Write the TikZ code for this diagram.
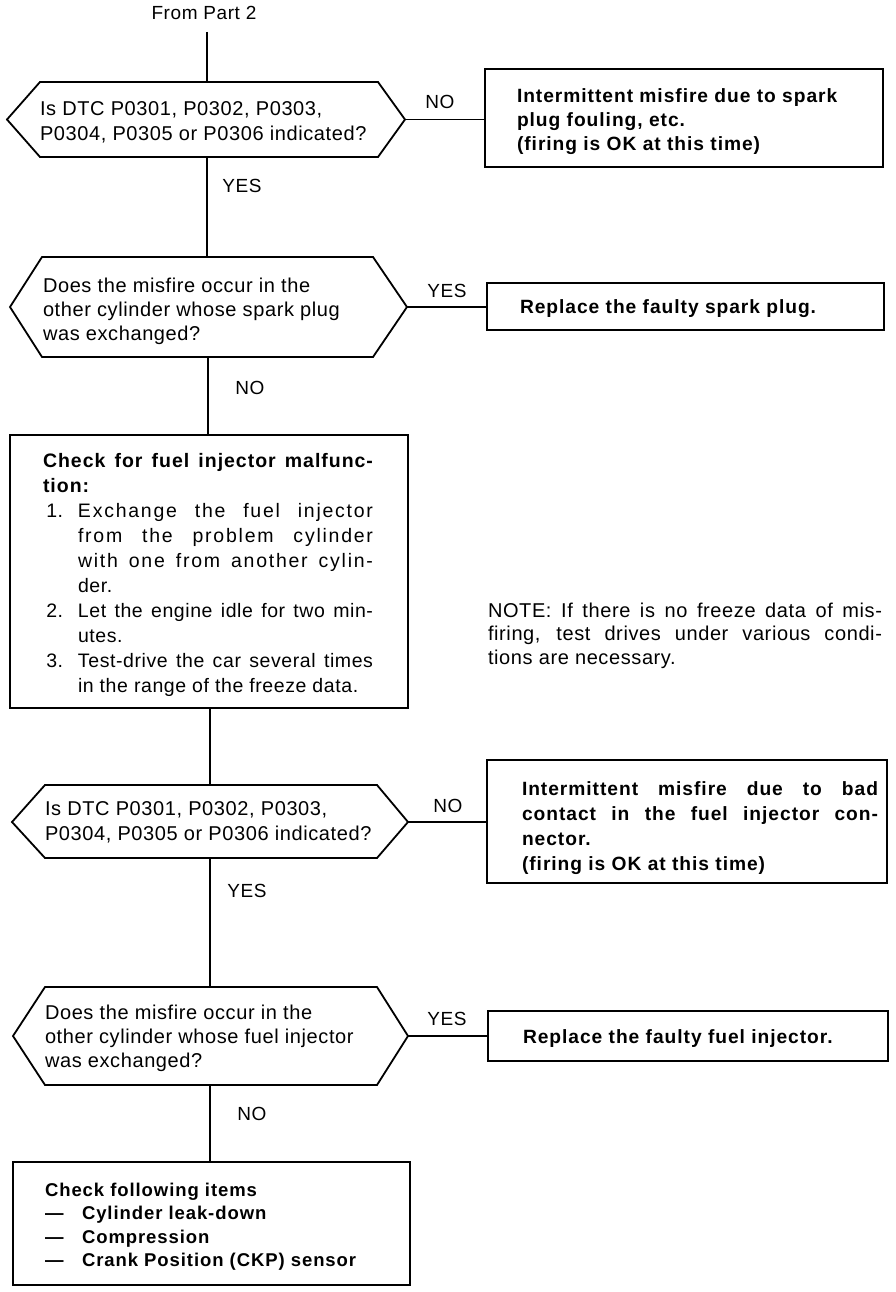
\documentclass[tikz,border=0pt]{standalone}
\usepackage{fontspec}
\setmainfont{Liberation Sans}
\newfontfamily\regf[LetterSpace=3]{Liberation Sans}
\newfontfamily\bldf[LetterSpace=5]{Liberation Sans}
\newcommand\blines[1]{\begin{tabular}[t]{@{}l@{}}#1\end{tabular}}
\newcommand\jl[2]{\makebox[#1pt][s]{#2}}
\newcommand\wide[1]{\addfontfeature{LetterSpace=9}#1}
\tikzset{
  every node/.style={inner sep=0pt, outer sep=0pt},
  rtxt/.style={anchor=base west, font=\regf\fontsize{19.5}{#1}\selectfont},
  rtxt/.default=24.5,
  qtxt/.style={anchor=base west, font=\regf\fontsize{20}{#1}\selectfont},
  qtxt/.default=24.5,
  btxt/.style={anchor=base west, font=\bldf\bfseries\fontsize{19.2}{#1}\selectfont},
  btxt/.default=24.5,
  lbl/.style={anchor=base, font=\regf\fontsize{19}{23}\selectfont},
  boxn/.style={draw, anchor=north west, line width=1.8pt},
  hexa/.style={draw, line width=1.8pt, line join=miter},
  conn/.style={draw, line width=1.8pt},
}
\begin{document}
\begin{tikzpicture}[x=1pt,y=-1pt]
\useasboundingbox (0,0) rectangle (896,1292);

% ---------- hexagon coordinates ----------
\coordinate (h1l) at (7,119.5);  \coordinate (h1tl) at (40,82);  \coordinate (h1tr) at (378,82);
\coordinate (h1r) at (405,119.5); \coordinate (h1br) at (378,157); \coordinate (h1bl) at (40,157);
\coordinate (h1t) at (207,82); \coordinate (h1b) at (207,157);

\coordinate (h2l) at (10,307);  \coordinate (h2tl) at (42,257);  \coordinate (h2tr) at (373,257);
\coordinate (h2r) at (407,307); \coordinate (h2br) at (373,357); \coordinate (h2bl) at (42,357);
\coordinate (h2t) at (207,257); \coordinate (h2b) at (208,357);

\coordinate (h3l) at (12,822);  \coordinate (h3tl) at (45,785);  \coordinate (h3tr) at (377,785);
\coordinate (h3r) at (408,822); \coordinate (h3br) at (377,858); \coordinate (h3bl) at (45,858);
\coordinate (h3t) at (210,785); \coordinate (h3b) at (210,858);

\coordinate (h4l) at (13,1036);  \coordinate (h4tl) at (45,987);  \coordinate (h4tr) at (377,987);
\coordinate (h4r) at (408,1036); \coordinate (h4br) at (377,1085); \coordinate (h4bl) at (45,1085);
\coordinate (h4t) at (210,987); \coordinate (h4b) at (210,1085);

\draw[hexa] (h1l) -- (h1tl) -- (h1tr) -- (h1r) -- (h1br) -- (h1bl) -- cycle;
\draw[hexa] (h2l) -- (h2tl) -- (h2tr) -- (h2r) -- (h2br) -- (h2bl) -- cycle;
\draw[hexa] (h3l) -- (h3tl) -- (h3tr) -- (h3r) -- (h3br) -- (h3bl) -- cycle;
\draw[hexa] (h4l) -- (h4tl) -- (h4tr) -- (h4r) -- (h4br) -- (h4bl) -- cycle;

% ---------- boxes ----------
\node[boxn, minimum width=398pt, minimum height=98pt] (b1) at (485,69) {};
\node[boxn, minimum width=397pt, minimum height=47pt] (b2) at (487,283) {};
\node[boxn, minimum width=398pt, minimum height=273pt] (b3) at (10,435) {};
\node[boxn, minimum width=400pt, minimum height=123pt] (b4) at (487,760) {};
\node[boxn, minimum width=400pt, minimum height=50pt] (b5) at (488,1011) {};
\node[boxn, minimum width=397pt, minimum height=123pt] (b6) at (13,1162) {};

% ---------- texts ----------
\node[lbl] (from) at (204,20) {From Part 2};
\coordinate (c0) at (207,32);

\node[qtxt=25] (q1) at (40,116) {\blines{Is DTC P0301, P0302, P0303,\\P0304, P0305 or P0306 indicated?}};
\node[lbl] (no1) at (440,109) {NO};
\node[btxt=24] (r1) at (517,103) {\blines{Intermittent misfire due to spark\\plug fouling, etc.\\(firing is OK at this time)}};
\node[lbl] (yes1) at (242,193) {YES};

\node[qtxt=24] (q2) at (43,292) {\blines{Does the misfire occur in the\\other cylinder whose spark plug\\was exchanged?}};
\node[lbl] (yes2) at (447,297) {YES};
\node[btxt] (r2) at (520,313) {Replace the faulty spark plug.};
\node[lbl] (no2) at (250,394) {NO};

\node[rtxt=25] (s3) at (43,467) {\begin{tabular}[t]{@{}l@{}l@{}}
\multicolumn{2}{@{}l@{}}{\bldf\bfseries\jl{330}{Check for fuel injector malfunc-}}\\
\multicolumn{2}{@{}l@{}}{\bldf\bfseries tion:}\\
\makebox[35pt][l]{\,1.} & \jl{295}{\wide{Exchange the fuel injector}}\\
 & \jl{295}{\wide{from the problem cylinder}}\\
 & \jl{295}{\wide{with one from another cylin-}}\\
 & der.\\
\,2. & \jl{295}{Let the engine idle for two min-}\\
 & utes.\\
\,3. & \jl{295}{Test-drive the car several times}\\
 & in the range of the freeze data.
\end{tabular}};

\node[anchor=base west, font=\regf\fontsize{20}{23.5}\selectfont] (note) at (488,617) {\blines{\jl{394}{NOTE: If there is no freeze data of mis-}\\\jl{394}{firing, test drives under various condi-}\\tions are necessary.}};

\node[qtxt=25] (q3) at (45,815) {\blines{Is DTC P0301, P0302, P0303,\\P0304, P0305 or P0306 indicated?}};
\node[lbl] (no3) at (448,812) {NO};
\node[btxt=25] (r4) at (522,795) {\blines{\jl{356}{Intermittent misfire due to bad}\\\jl{356}{contact in the fuel injector con-}\\nector.\\(firing is OK at this time)}};
\node[lbl] (yes3) at (247,897) {YES};

\node[qtxt=24] (q4) at (45,1019) {\blines{Does the misfire occur in the\\other cylinder whose fuel injector\\was exchanged?}};
\node[lbl] (yes4) at (447,1025) {YES};
\node[btxt] (r5) at (523,1043) {Replace the faulty fuel injector.};
\node[lbl] (no4) at (252,1120) {NO};

\node[anchor=base west, font=\bldf\bfseries\fontsize{18.5}{23.5}\selectfont] (r6) at (45,1196) {\begin{tabular}[t]{@{}l@{}l@{}}
\multicolumn{2}{@{}l@{}}{Check following items}\\
\makebox[37pt][l]{—} & Cylinder leak-down\\
— & Compression\\
— & Crank Position (CKP) sensor
\end{tabular}};

% ---------- connectors ----------
\draw[conn] (c0) -- (h1t);
\draw[conn] (h1b) -- (h2t);
\draw[conn] (h1r) -- (h1r -| b1.west);
\draw[conn] (h2r) -- (h2r -| b2.west);
\draw[conn] (h2b) -- (h2b |- b3.north);
\draw[conn] (h3t |- b3.south) -- (h3t);
\draw[conn] (h3r) -- (h3r -| b4.west);
\draw[conn] (h3b) -- (h4t);
\draw[conn] (h4r) -- (h4r -| b5.west);
\draw[conn] (h4b) -- (h4b |- b6.north);
\end{tikzpicture}
\end{document}
